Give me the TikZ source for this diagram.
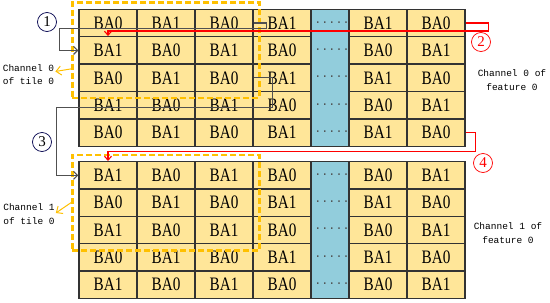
\documentclass[tikz,border=0pt]{standalone}
\usepackage{fontspec}
\newfontfamily\cellfont[FakeStretch=0.8]{Liberation Serif}
\newfontfamily\numfont{Liberation Serif}
\newfontfamily\notefont{Liberation Mono}
\usepackage{tikz}
\usetikzlibrary{arrows.meta,positioning,fit,calc}
\usepackage{xcolor}
\definecolor{cellfill}{RGB}{255,230,153}
\definecolor{gapblue}{RGB}{146,205,220}
\definecolor{tileorange}{RGB}{255,192,0}
\definecolor{linegray}{RGB}{80,80,80}

\begin{document}
\begin{tikzpicture}[x=1pt, y=-1pt,
      cell/.style={draw=black!80, fill=cellfill, line width=1.3pt, minimum width=58pt,
        minimum height=27.4pt, inner sep=0pt, font=\cellfont\fontsize{19}{20}\selectfont},
      gap/.style={draw=black!80, fill=gapblue, line width=1.3pt, minimum width=38pt,
        minimum height=137pt, inner sep=0pt},
      gapdots/.style={font=\notefont\fontsize{11.7}{12}\selectfont, text=black!70,
        inner sep=0pt, anchor=base},
      tile/.style={draw=tileorange, line width=2.6pt, dash pattern=on 6pt off 3pt, inner sep=6pt},
      note/.style={font=\notefont\fontsize{9.5}{13.5}\selectfont, align=center, inner sep=1pt},
      num/.style={circle, draw, line width=0.7pt, minimum size=19pt, inner sep=0pt,
        font=\numfont\fontsize{15}{15}\selectfont},
      flow/.style={draw=linegray, line width=1.1pt, -{Straight Barb[length=4pt,width=8pt]}},
      jump/.style={draw=red, line width=1.1pt, -{Straight Barb[length=4pt,width=7pt]}},
      pointer/.style={draw=tileorange, line width=1pt, -{Straight Barb[length=5pt,width=9pt]}}
    ]
    \useasboundingbox (0,0) rectangle (550,303);
    % blue gap columns
    \node[gap] (tgap) at (330,77.8) {};
    \node[gap] (bgap) at (330,229.9) {};
    % feature 0, channel 0 (top) and channel 1 (bottom)
    \foreach \r in {1,...,5} {
      \foreach \c/\x in {1/108,2/166,3/224,4/282,6/378,7/436} {
        \pgfmathtruncatemacro\ba{mod(\r+\c,2)}
        \pgfmathtruncatemacro\bb{mod(\r+\c+1,2)}
        \node[cell] (t-\r-\c) at (\x,{9.3+27.4*(\r-0.5)}) {BA\ba};
        \node[cell] (b-\r-\c) at (\x,{161.7+27.3*(\r-0.5)}) {BA\bb};
      }
      \node[gapdots] (td-\r) at (332,{9.3+27.4*(\r-0.5)}) {.....};
      \node[gapdots] (bd-\r) at (332,{161.7+27.3*(\r-0.5)}) {.....};
    }
    % tiles
    \node[tile, fit=(t-1-1)(t-3-3)] (tileA) {};
    \node[tile, fit=(b-1-1)(b-3-3)] (tileB) {};
    % notes
    \node[note] (tileA-note) at (28.5,74.5) {Channel 0\\of tile 0};
    \node[note] (tileB-note) at (29,214) {Channel 1\\of tile 0};
    \node[note] (featA-note) at (512,80) {Channel 0 of\\feature 0};
    \node[note] (featB-note) at (508,233) {Channel 1 of\\feature 0};
    \draw[pointer] ([yshift=-18.5pt]tileA.west) -- ([yshift=3pt]tileA-note.east);
    \draw[pointer] (tileB.west) -- ([yshift=1pt]tileB-note.east);
    % order of reading
    \node[num, draw=black!70!blue] (n1) at (47,22) {1};
    \node[num, draw=red, text=red] (n2) at (481,42) {2};
    \node[num, draw=black!70!blue] (n3) at (42,142) {3};
    \node[num, draw=red, text=red] (n4) at (483,163) {4};
    \draw[flow] (t-1-3.east) -- ++(13,0) -- ++(0,5.5) -- ++(-207,0) |- (t-2-1.west);
    \draw[flow] (t-3-3.east) -- ++(19,0) -- ++(0,30) -- ++(-216,0) |- (b-1-1.west);
    \draw[jump] (t-1-7.east) -- ++(23,0) -- ++(0,8) -| (t-2-1.north);
    \draw[jump] (t-5-7.east) -- ++(10,0) -- ++(0,18.5) -| (b-1-1.north);
  \end{tikzpicture}
\end{document}
